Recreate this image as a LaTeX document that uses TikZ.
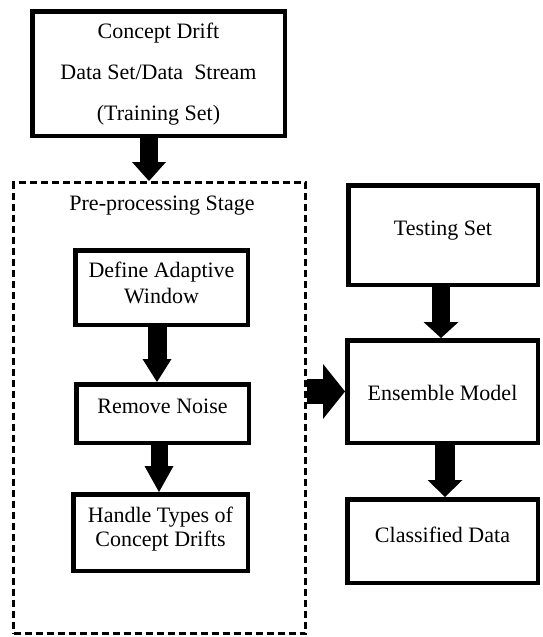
\documentclass[tikz,border=0pt]{standalone}
\usepackage{fontspec}
\setmainfont{Liberation Serif}
\usetikzlibrary{arrows.meta,calc}
\begin{document}
\begin{tikzpicture}[x=1pt,y=-1pt,
  box/.style={draw,line width=4.5pt,inner sep=0pt,align=center,
    font=\fontsize{22}{26}\selectfont},
  group/.style={draw,line width=3pt,dash pattern=on 7pt off 4pt,inner sep=0pt},
  lbl/.style={font=\fontsize{22}{26}\selectfont,inner sep=0pt},
  barrow/.style args={#1/#2/#3}{line width=#1,
    -{Triangle[width=#2,length=#3,line width=0pt]}}
]
\useasboundingbox (0,0) rectangle (542,637);

% boxes
\node[box,minimum width=252.5pt,minimum height=124.5pt,
  font=\fontsize{22}{41}\selectfont,text height=94.4pt,text depth=0pt]
  (top) at (158.5,73.5) {Concept Drift\\Data Set/Data\ \ Stream\\(Training Set)};

\node[group,minimum width=292pt,minimum height=451pt] (pre) at (159.5,408) {};
\node[lbl,anchor=base] (pretitle) at (162,210) {Pre-processing Stage};

\node[box,minimum width=172.5pt,minimum height=74.5pt,
  text height=31.6pt,text depth=0pt]
  (def) at (161.5,287.5) {Define Adaptive\\Window};
\node[box,minimum width=172.5pt,minimum height=58.5pt,
  text height=8pt,text depth=8pt]
  (rem) at (162.5,413.5) {Remove Noise};
\node[box,minimum width=174.5pt,minimum height=76.5pt,
  font=\fontsize{22}{24.5}\selectfont,text height=28.6pt,text depth=0pt]
  (han) at (160.5,532.5) {Handle Types of\\Concept Drifts};

\node[box,minimum width=189.5pt,minimum height=99.5pt,
  text height=8pt,text depth=8pt]
  (test) at (443,235) {Testing Set};
\node[box,minimum width=190.5pt,minimum height=102.5pt,
  text height=17.6pt,text depth=0pt]
  (ens) at (442.5,391.5) {Ensemble Model};
\node[box,minimum width=190.5pt,minimum height=83.5pt,
  text height=8pt,text depth=5.4pt]
  (cls) at (442.5,541) {Classified Data};

% arrows
\draw[barrow=18pt/34pt/19pt] ($(top.south)+(-9.5,0)$) -- ($(top.south |- pre.north)+(-9.5,0)$);
\draw[barrow=19pt/29pt/23pt] ($(def.south)+(-4.5,0)$) -- ($(def.south |- rem.north)+(-4.5,0)$);
\draw[barrow=17pt/29pt/26pt] ($(rem.south)+(-3.5,0)$) -- ($(rem.south |- han.north)+(-3.5,0)$);
\draw[barrow=18pt/35pt/16pt] ($(test.south)+(-2,0)$) -- ($(test.south |- ens.north)+(-2,0)$);
\draw[barrow=20pt/35pt/17pt] ($(ens.south)+(2.5,0)$) -- ($(ens.south |- cls.north)+(2.5,0)$);
\draw[barrow=25pt/55pt/22pt] (pre.east |- ens.west) -- (ens.west);
\end{tikzpicture}
\end{document}
